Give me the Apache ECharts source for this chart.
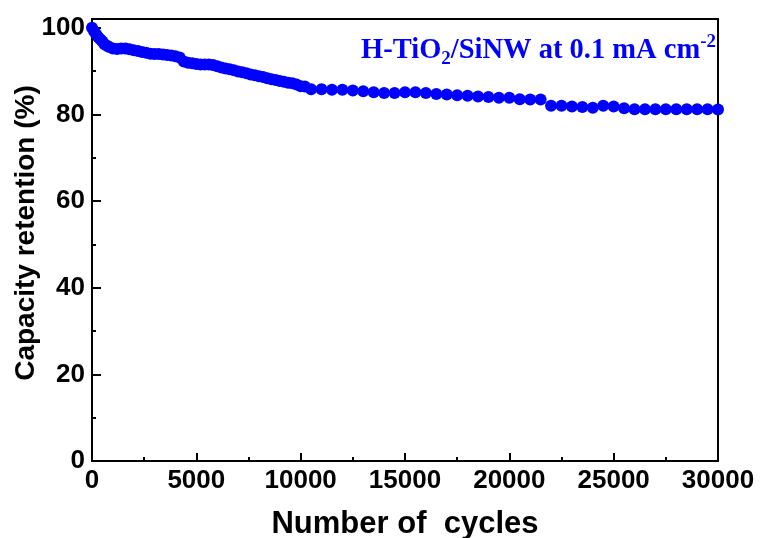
<!DOCTYPE html>
<html>
<head>
<meta charset="utf-8">
<script src="https://cdn.jsdelivr.net/npm/echarts@6/dist/echarts.min.js"></script>
<style>html,body{margin:0;padding:0;background:#fff}#c{width:760px;height:538px}</style>
</head>
<body>
<div id="c"></div>
<script>
// cycle numbers
const cycles = [
  0,100,200,300,400,500,600,700,800,1000,1200,1400,1600,1800,2000,2200,2400,2600,2800,3000,
  3200,3400,3600,3800,4000,4200,4400,4600,4800,5000,5200,5400,5600,5800,6000,6200,6400,6600,6800,7000,
  7200,7400,7600,7800,8000,8200,8400,8600,8800,9000,9200,9400,9600,9800,10000,10200,
  10500,11000,11500,12000,12500,13000,13500,14000,14500,15000,15500,16000,16500,17000,17500,18000,
  18500,19000,19500,20000,20500,21000,21500,22000,22500,23000,23500,24000,24500,25000,25500,26000,
  26500,27000,27500,28000,28500,29000,29500,30000
];
// capacity retention (%)
const retention = [
  100,99.2,98.5,97.8,97.3,96.8,96.2,95.9,95.6,95.2,95.1,95.2,95.2,95.0,94.8,94.6,94.4,94.2,94.0,93.9,
  93.9,93.8,93.7,93.6,93.4,93.1,92.2,91.9,91.8,91.6,91.5,91.5,91.5,91.4,91.1,90.8,90.6,90.4,90.2,89.9,
  89.7,89.5,89.2,89.0,88.8,88.6,88.3,88.1,87.9,87.7,87.5,87.3,87.2,86.9,86.5,86.4,
  85.8,85.8,85.7,85.7,85.5,85.3,85.1,84.9,84.9,85.1,85.1,84.9,84.7,84.6,84.4,84.3,
  84.1,84.0,83.8,83.8,83.5,83.4,83.4,82.0,82.0,81.8,81.7,81.5,82.0,81.8,81.4,81.2,
  81.2,81.2,81.2,81.2,81.2,81.2,81.2,81.1
];
const yMajorTicks = [0,20,40,60,80,100];
const yMinorTicks = [10,30,50,70,90];
const xTitle = 'Number of  cycles';
const yTitle = 'Capacity retention (%)';

const points = cycles.map((c, i) => [c, retention[i]]);
const sans = '"Liberation Sans", Arial, Helvetica, sans-serif';
const serif = '"Liberation Serif", "Times New Roman", serif';

const chart = echarts.init(document.getElementById('c'), null, {renderer: 'canvas'});
chart.setOption({
  animation: false,
  backgroundColor: '#fff',
  grid: {left: 92, right: 42, top: 19, bottom: 77, show: true, borderColor: '#000', borderWidth: 2,
         backgroundColor: 'transparent', containLabel: false, outerBoundsMode: 'none'},
  xAxis: {
    type: 'value', min: 0, max: 30000, interval: 5000,
    name: xTitle, nameLocation: 'middle', nameGap: 48, nameMoveOverlap: false,
    nameTextStyle: {fontFamily: sans, fontWeight: 'bold', fontSize: 31, color: '#000'},
    axisLine: {show: true, lineStyle: {color: '#000', width: 2}},
    axisTick: {show: true, inside: true, length: 8, lineStyle: {color: '#000', width: 2}},
    minorTick: {show: true, splitNumber: 2, length: 4, lineStyle: {color: '#000', width: 2}},
    splitLine: {show: false},
    axisLabel: {margin: 7, fontFamily: sans, fontWeight: 'bold', fontSize: 26, color: '#000',
                formatter: v => String(v)}
  },
  yAxis: [{
    type: 'value', min: 0, max: 102,
    name: yTitle, nameLocation: 'middle', nameGap: 52, nameMoveOverlap: false,
    nameTextStyle: {fontFamily: sans, fontWeight: 'bold', fontSize: 28, color: '#000', padding: [0, 0, 0, 14]},
    axisLine: {show: true, lineStyle: {color: '#000', width: 2}},
    axisTick: {show: true, inside: true, length: 9, customValues: yMajorTicks, lineStyle: {color: '#000', width: 2}},
    splitLine: {show: false},
    axisLabel: {margin: 7, customValues: yMajorTicks, fontFamily: sans, fontWeight: 'bold', fontSize: 26, color: '#000'}
  }, {
    type: 'value', min: 0, max: 102, position: 'left',
    axisLine: {show: false},
    axisTick: {show: true, inside: true, length: 4, customValues: yMinorTicks, lineStyle: {color: '#000', width: 2}},
    splitLine: {show: false},
    axisLabel: {show: false}
  }],
  series: [{
    type: 'scatter', data: points, symbol: 'circle', symbolSize: 12,
    itemStyle: {color: '#0000ff', opacity: 1}, clip: true
  }],
  graphic: [{
    type: 'text', right: 44, top: 33,
    style: {
      text: '{m|H-TiO}{sub|2}{m|/SiNW at 0.1 mA cm}{sup|-2}',
      rich: {
        m: {fontFamily: serif, fontWeight: 'bold', fontSize: 28.5, fill: '#0000ff', color: '#0000ff', lineHeight: 36, verticalAlign: 'middle'},
        sub: {fontFamily: serif, fontWeight: 'bold', fontSize: 19, fill: '#0000ff', color: '#0000ff', lineHeight: 16, verticalAlign: 'bottom'},
        sup: {fontFamily: serif, fontWeight: 'bold', fontSize: 19, fill: '#0000ff', color: '#0000ff', lineHeight: 30, verticalAlign: 'top'}
      }
    }
  }]
});
</script>
</body>
</html>
